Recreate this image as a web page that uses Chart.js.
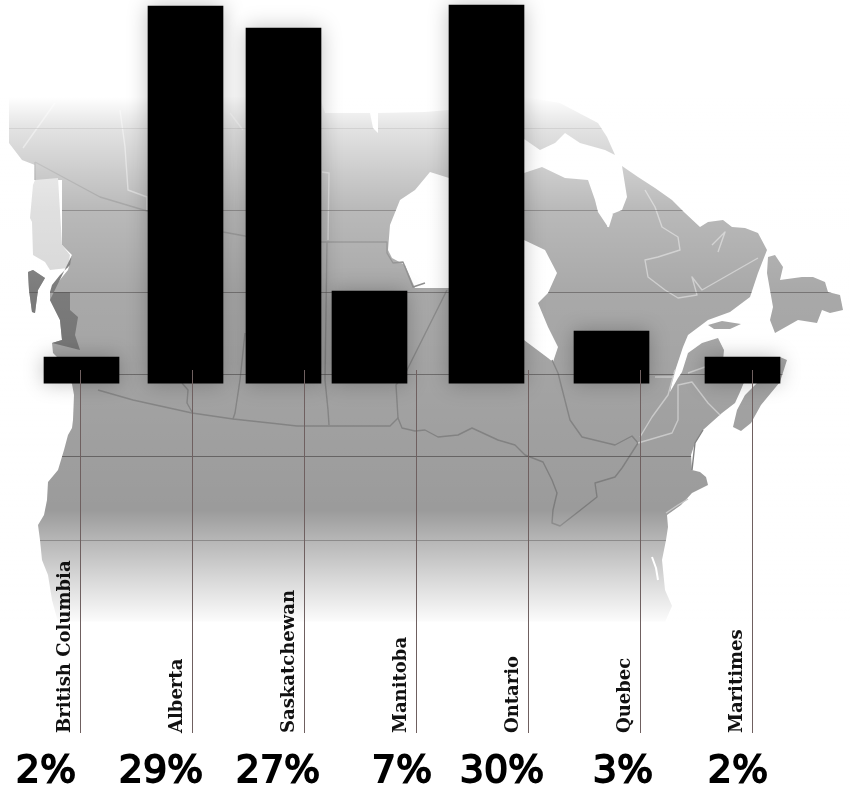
<!DOCTYPE html>
<html>
<head>
<meta charset="utf-8">
<title>Canada</title>
<script src="https://cdn.jsdelivr.net/npm/chart.js@4"></script>
<style>
    html, body { margin: 0; padding: 0; background: #fff; }
    canvas { display: block; }
</style>
</head>
<body>
<canvas id="shareChart" width="850" height="786"></canvas>
<script>
const provinces = ['British Columbia', 'Alberta', 'Saskatchewan', 'Manitoba', 'Ontario', 'Quebec', 'Maritimes'];
const percents = [2, 29, 27, 7, 30, 3, 2];
const barHeights = [2.02, 29.02, 27.32, 7.09, 29.09, 4.02, 2.02];
const barCenters = [81.5, 185.5, 283.5, 369.5, 486.5, 611.5, 742.5];
const leaderX = [80, 192, 304, 416, 528, 640, 752];
const percentX = [46, 161, 278, 402, 502, 623, 738];

// Карта на фоне, координаты в пикселях страницы

const mapLand = [
    [9,97],[320,97],[325,113],[370,113],[373,128],[378,133],[378,113],[425,112],[449,110],[449,178],[430,172],
    [415,190],[400,200],[390,225],[388,250],[392,258],[405,265],[415,288],[449,288],[524,340],[548,358],[553,362],
    [558,347],[548,327],[538,303],[548,293],[557,273],[545,250],[524,240],[515,200],[524,173],[542,167],[565,178],
    [588,180],[595,200],[598,212],[608,227],[612,214],[622,210],[627,197],[622,166],[638,177],[655,188],[672,200],
    [685,213],[700,227],[708,222],[723,220],[732,227],[745,228],[758,233],[767,250],[758,273],[750,297],[730,312],
    [708,320],[688,335],[683,347],[673,377],[670,392],[678,378],[682,372],[688,353],[702,343],[718,338],[724,350],
    [722,372],[745,380],[740,392],[735,403],[722,413],[703,430],[695,443],[691,455],[692,470],[700,472],[706,477],
    [708,485],[692,493],[681,505],[667,515],[668,527],[666,540],[662,560],[665,590],[672,606],[665,622],[58,622],
    [52,600],[48,575],[42,560],[40,540],[38,525],[44,515],[47,500],[48,482],[58,470],[64,450],[68,435],[72,428],
    [73,420],[74,395],[72,384],[60,360],[53,353],[52,343],[62,340],[60,320],[50,300],[50,292],[68,270],[72,255],
    [62,245],[62,180],[35,180],[35,165],[22,160],[9,143]
];
const mapNewfoundland = [
    [768,257],[775,255],[783,267],[780,280],[802,277],[813,277],[825,282],[828,292],[840,295],[843,310],[830,313],
    [822,310],[817,323],[798,320],[775,333],[770,320],[773,307],[767,273]
];
const mapNovaScotia = [[733,427],[741,431],[751,423],[761,405],[780,382],[787,360],[780,357],[760,380],[745,395],[737,410]];
const mapBaffin = [[524,97],[560,103],[598,123],[607,137],[615,155],[605,150],[580,143],[565,133],[555,143],[540,150],[524,139]];
const mapAnticosti = [[708,325],[722,321],[741,324],[730,329],[714,329]];
const mapPanhandle = [[35,180],[58,178],[62,245],[70,255],[68,268],[50,270],[45,262],[33,255],[32,222],[30,218],[33,185]];
const mapVancouver = [[28,272],[33,270],[45,278],[38,290],[36,305],[35,313],[32,312],[29,290]];
const mapDarkCoast = [[72,255],[70,265],[60,275],[52,285],[50,292],[70,292],[70,310],[78,317],[75,335],[80,350],[60,345],[52,343],[62,340],[60,320],[50,300]];

const darkBorders = [
    [[35,162],[100,197],[147,211],[223,232],[245,236],[321,242],[387,242],[387,253],[393,263],[403,262],[413,287],[425,283]],
    [[447,290],[407,370],[396,385],[398,418]],
    [[327,242],[325,380],[328,410],[329,425]],
    [[245,333],[240,380],[235,413],[233,419]],
    [[182,383],[188,390],[187,403],[192,412]],
    [[98,390],[133,400],[192,413],[233,419],[270,423],[297,426],[390,426],[398,418],[402,428],[415,431],[425,430],[438,437],
     [458,435],[472,428],[498,440],[515,445],[525,455],[543,462],[552,480],[557,493],[553,510],[552,523],[560,526],[578,512],
     [597,497],[595,483],[615,477],[622,468],[638,443]],
    [[552,360],[558,373],[570,420],[582,437],[615,445],[632,436],[638,443]],
    [[35,162],[35,180]],
    [[692,470],[695,443],[703,430]]
];
const lightBorders = [
    [[638,443],[672,433],[678,420],[678,385],[692,382],[708,403],[720,415]],
    [[640,437],[652,417],[668,395],[675,370]],
    [[655,377],[673,377]],
    [[688,373],[705,367]],
    [[645,190],[655,207],[662,227],[678,237],[680,250],[658,257],[645,260],[648,277],[665,290],[678,298],[697,295],[692,277],[702,290],[758,258]],
    [[55,103],[23,148]],
    [[120,110],[125,147],[128,190],[147,197],[147,210]],
    [[230,113],[243,130]],
    [[322,172],[329,173],[328,240]],
    [[712,245],[725,232],[718,252]],
    [[666,513],[678,505],[688,499]]
];
const whiteInlets = [
    [[652,557],[656,568],[658,580]],
    [[608,227],[612,214]]
];
const mapGridY = [128.5, 210.5, 292.5, 374.5, 456.5, 540.5];
const fadeStops = [[97,1],[128,0.72],[170,0.5],[210,0.3],[290,0.14],[400,0.07],[510,0],[540,0.27],[580,0.62],[621,0.96],[622,1]];

function polygon(points) {
    const path = new Path2D();
    points.forEach(function(p, i) {
        if (i === 0) path.moveTo(p[0], p[1]);
        else path.lineTo(p[0], p[1]);
    });
    path.closePath();
    return path;
}

function strokeLines(ctx, lines, color, width) {
    ctx.strokeStyle = color;
    ctx.lineWidth = width;
    ctx.lineJoin = 'round';
    lines.forEach(function(line) {
        ctx.beginPath();
        line.forEach(function(p, i) {
            if (i === 0) ctx.moveTo(p[0], p[1]);
            else ctx.lineTo(p[0], p[1]);
        });
        ctx.stroke();
    });
}

const mapPlugin = {
    id: 'map',
    beforeDatasetsDraw(chart) {
        const ctx = chart.ctx;
        const land = new Path2D();
        [mapLand, mapNewfoundland, mapNovaScotia, mapBaffin, mapAnticosti, mapVancouver].forEach(function(points) {
            land.addPath(polygon(points));
        });
        ctx.save();
        ctx.fillStyle = '#9b9b9b';
        ctx.fill(land);
        ctx.fillStyle = '#d2d2d2';
        ctx.fill(polygon(mapPanhandle));
        ctx.fillStyle = '#666';
        ctx.fill(polygon(mapVancouver));
        ctx.fill(polygon(mapDarkCoast));
        strokeLines(ctx, darkBorders, '#7c7c7c', 1.4);
        strokeLines(ctx, lightBorders, '#c6c6c6', 1.4);
        strokeLines(ctx, whiteInlets, '#fff', 2);

        ctx.save();
        ctx.clip(land);
        ctx.strokeStyle = 'rgba(50, 45, 45, 0.55)';
        ctx.lineWidth = 1;
        mapGridY.forEach(function(y) {
            ctx.beginPath();
            ctx.moveTo(0, y);
            ctx.lineTo(850, y);
            ctx.stroke();
        });
        ctx.restore();

        const fade = ctx.createLinearGradient(0, 97, 0, 622);
        fadeStops.forEach(function(s) {
            fade.addColorStop((s[0] - 97) / 525, 'rgba(255, 255, 255, ' + s[1] + ')');
        });
        ctx.fillStyle = fade;
        ctx.fillRect(0, 97, 850, 525);
        ctx.restore();

        // Тень у столбцов
        ctx.save();
        ctx.shadowColor = 'rgba(0, 0, 0, 0.25)';
        ctx.shadowBlur = 20;
    },
    afterDatasetsDraw(chart) {
        chart.ctx.restore();
    },
};

const labelsPlugin = {
    id: 'leaderLabels',
    afterDraw(chart) {
        const ctx = chart.ctx;
        const xScale = chart.scales.x;
        ctx.save();
        ctx.strokeStyle = '#6f6060';
        ctx.lineWidth = 1;
        leaderX.forEach(function(x) {
            const px = Math.round(xScale.getPixelForValue(x)) + 0.5;
            ctx.beginPath();
            ctx.moveTo(px, 370);
            ctx.lineTo(px, 733);
            ctx.stroke();
        });

        ctx.fillStyle = '#111';
        ctx.textAlign = 'left';
        ctx.textBaseline = 'alphabetic';
        ctx.font = 'bold 18px "DejaVu Serif"';
        provinces.forEach(function(name, i) {
            ctx.save();
            ctx.translate(xScale.getPixelForValue(leaderX[i]) - 10, 733);
            ctx.rotate(-Math.PI / 2);
            ctx.fillText(name, 0, 0);
            ctx.restore();
        });

        ctx.fillStyle = '#000';
        ctx.strokeStyle = '#000';
        ctx.lineWidth = 1.8;
        ctx.textAlign = 'center';
        ctx.font = '38px "DejaVu Sans"';
        percents.forEach(function(value, i) {
            const px = xScale.getPixelForValue(percentX[i]);
            ctx.fillText(value + '%', px, 782);
            ctx.strokeText(value + '%', px, 782);
        });
        ctx.restore();
    },
};

new Chart(document.getElementById('shareChart'), {
    type: 'bar',
    data: {
        datasets: [
            {
                label: 'Share',
                data: barCenters.map(function(x, i) { return { x: x, y: barHeights[i] }; }),
                backgroundColor: '#000',
                barThickness: 75,
            }
        ]
    },
    options: {
        responsive: false,
        animation: false,
        layout: { padding: 0 },
        scales: {
            x: { type: 'linear', display: false, offset: false, min: 0, max: 850 },
            y: { display: false, min: -30.98, max: 29.48 },
        },
        plugins: {
            legend: { display: false },
            title: { display: false },
            tooltip: { enabled: false },
        },
    },
    plugins: [mapPlugin, labelsPlugin],
});
</script>
</body>
</html>
